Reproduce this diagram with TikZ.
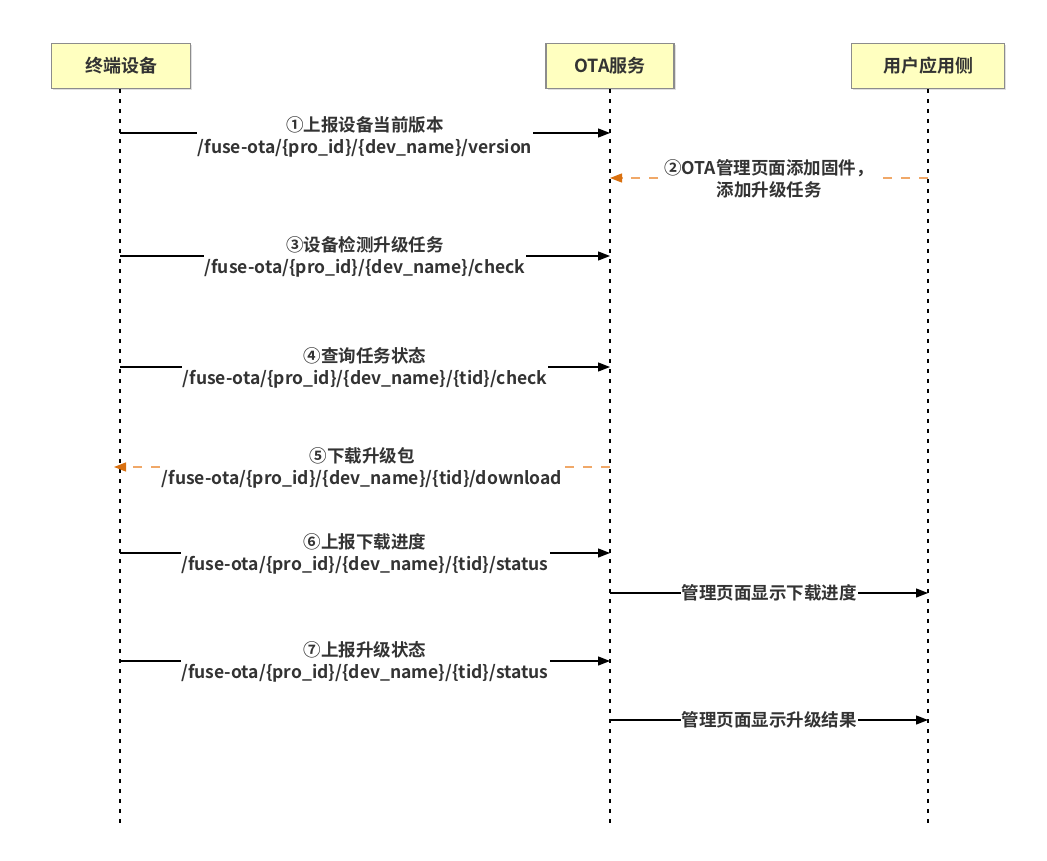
\documentclass[tikz,border=0pt]{standalone}
\usepackage{fontspec}
\setmainfont{Noto Sans CJK SC}[BoldFont={Noto Sans CJK SC Bold}]
\usetikzlibrary{arrows.meta,shadows}
\definecolor{boxfill}{HTML}{FFFFC0}
\definecolor{boxdraw}{HTML}{8C8C8C}
\definecolor{txt}{HTML}{333333}
\definecolor{orhead}{HTML}{D9700F}
\definecolor{ordash}{HTML}{F0A868}
\tikzset{
  actor/.style={draw=boxdraw,line width=1.5pt,fill=boxfill,minimum height=45pt,
    font=\fontsize{18}{20}\selectfont\bfseries,text=txt,inner sep=0pt,
    drop shadow={shadow xshift=1.5pt,shadow yshift=-1.5pt,opacity=0.25}},
  life/.style={line width=2pt,dash pattern=on 4pt off 6pt},
  msg/.style={line width=1.3pt,-{Triangle[length=12pt,width=9pt]}},
  ret/.style={line width=1.3pt,draw=ordash,dash pattern=on 9pt off 9pt,
    -{Triangle[length=12pt,width=9pt,color=orhead]}},
  lbl/.style={fill=white,text=txt,font=\fontsize{17.5}{22}\selectfont\bfseries,
    align=center,inner sep=1pt}
}
\begin{document}
\begin{tikzpicture}[x=1pt,y=-1pt]
\useasboundingbox (0,0) rectangle (1047,861);
% actors
\node[actor,minimum width=139pt] (A) at (121,66) {终端设备};
\node[actor,minimum width=128pt] (B) at (610,66) {OTA服务};
\node[actor,minimum width=153pt] (C) at (928,66) {用户应用侧};
\coordinate (Aend) at (120,826);
\coordinate (Bend) at (610,826);
\coordinate (Cend) at (928,826);
\draw[life] (A.south -| Aend) -- (Aend);
\draw[life] (B.south) -- (Bend);
\draw[life] (C.south) -- (Cend);
% message endpoints
\coordinate (a1) at (120,133); \coordinate (b1) at (610,133);
\coordinate (c2) at (928,178); \coordinate (b2) at (610,178);
\coordinate (a3) at (120,256); \coordinate (b3) at (610,256);
\coordinate (a4) at (120,367); \coordinate (b4) at (610,367);
\coordinate (b5) at (610,467); \coordinate (a5) at (114,467);
\coordinate (a6) at (120,553); \coordinate (b6) at (610,553);
\coordinate (b7) at (610,593); \coordinate (c7) at (928,593);
\coordinate (a8) at (120,661); \coordinate (b8) at (610,661);
\coordinate (b9) at (610,720); \coordinate (c9) at (928,720);
% messages
\draw[msg] (a1) -- node[lbl,yshift=-4pt] (m1) {①上报设备当前版本\\/fuse-ota/\{pro\_id\}/\{dev\_name\}/version} (b1);
\draw[ret] (c2) -- node[lbl,yshift=-1pt] (m2) {②OTA管理页面添加固件，\\添加升级任务} (b2);
\draw[msg] (a3) -- node[lbl,yshift=-1pt] (m3) {③设备检测升级任务\\/fuse-ota/\{pro\_id\}/\{dev\_name\}/check} (b3);
\draw[msg] (a4) -- node[lbl,yshift=-1pt] (m4) {④查询任务状态\\/fuse-ota/\{pro\_id\}/\{dev\_name\}/\{tid\}/check} (b4);
\draw[ret] (b5) -- node[lbl,yshift=-1pt] (m5) {⑤下载升级包\\/fuse-ota/\{pro\_id\}/\{dev\_name\}/\{tid\}/download} (a5);
\draw[msg] (a6) -- node[lbl,yshift=-1pt] (m6) {⑥上报下载进度\\/fuse-ota/\{pro\_id\}/\{dev\_name\}/\{tid\}/status} (b6);
\draw[msg] (b7) -- node[lbl] (m7) {管理页面显示下载进度} (c7);
\draw[msg] (a8) -- node[lbl,yshift=-1pt] (m8) {⑦上报升级状态\\/fuse-ota/\{pro\_id\}/\{dev\_name\}/\{tid\}/status} (b8);
\draw[msg] (b9) -- node[lbl] (m9) {管理页面显示升级结果} (c9);
\end{tikzpicture}
\end{document}
